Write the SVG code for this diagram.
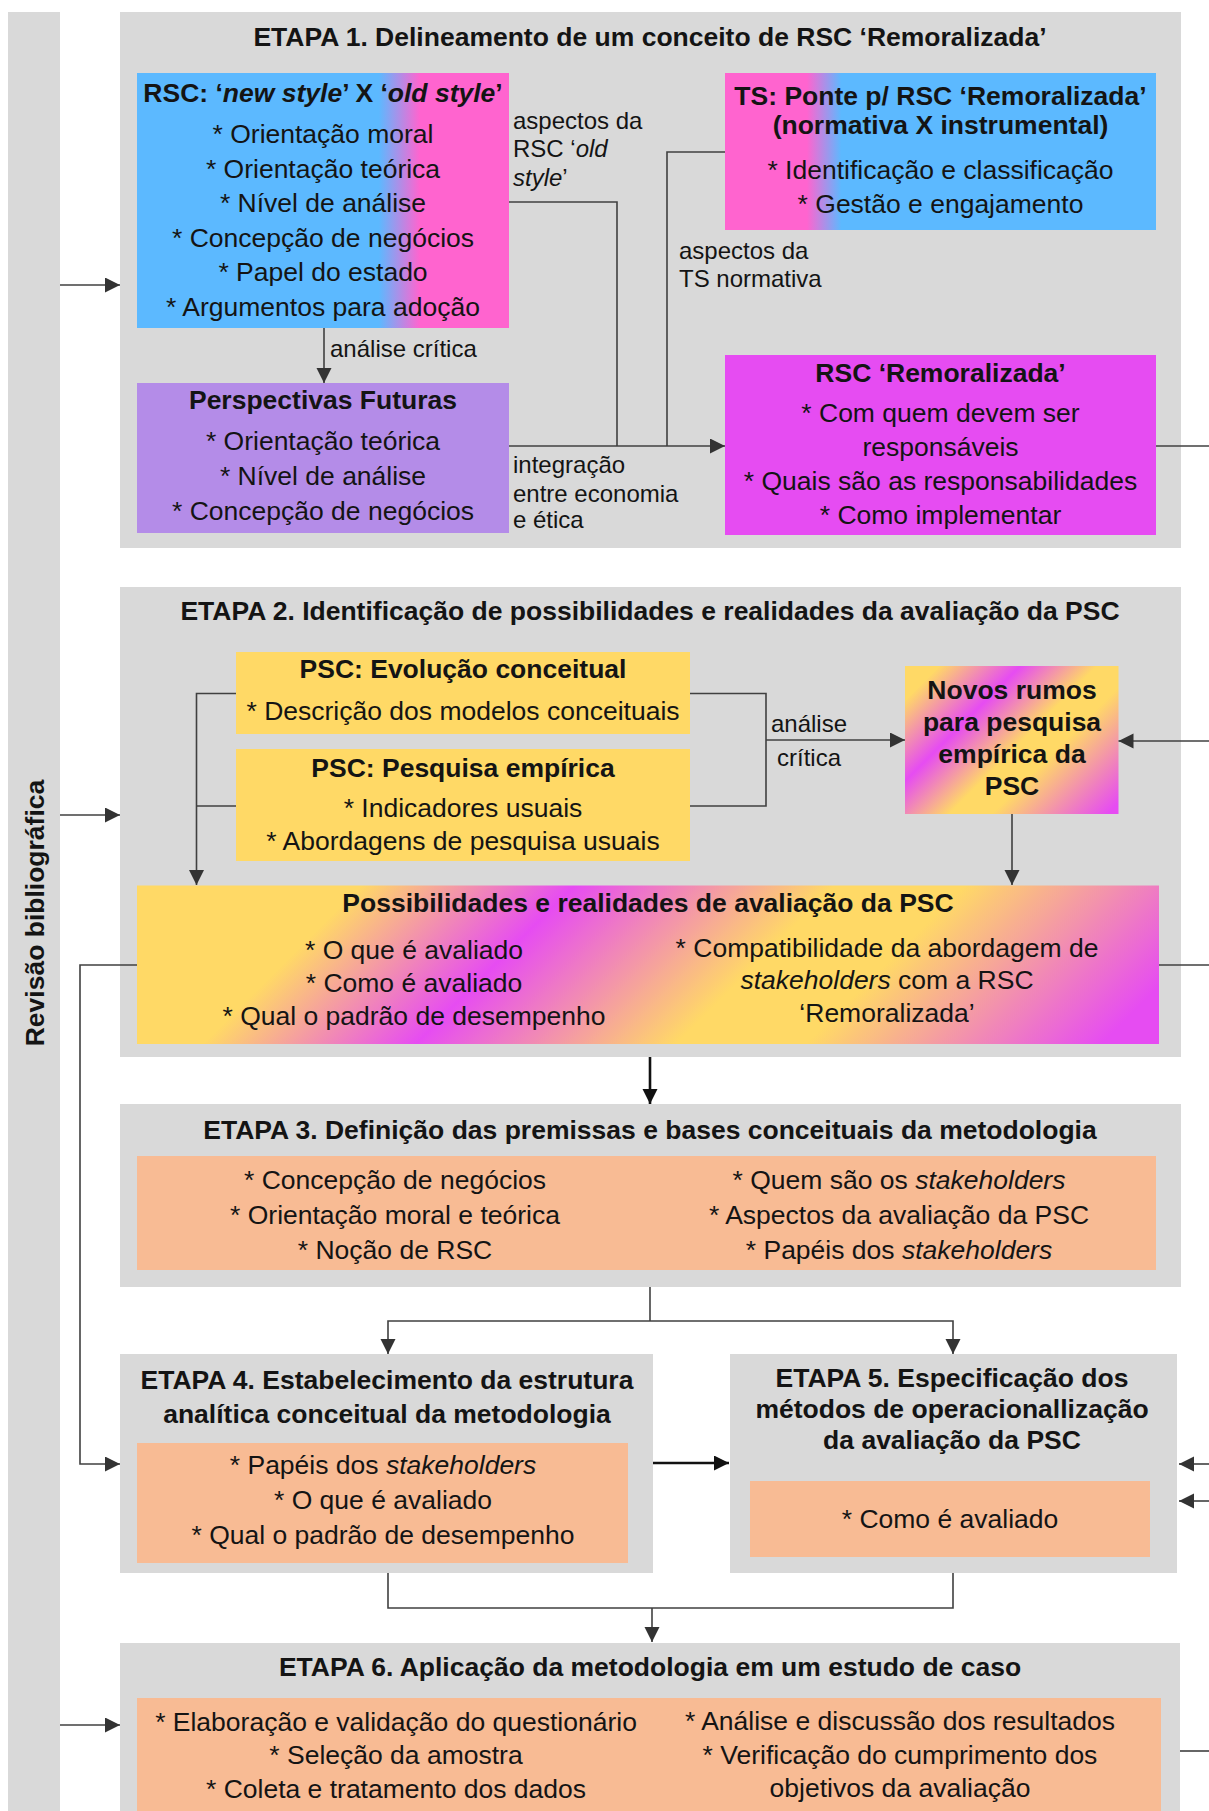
<svg xmlns="http://www.w3.org/2000/svg" width="1209" height="1811" viewBox="0 0 1209 1811">
  <style>
    .panel { fill: #D9D9D9; }
    .inner { fill: #F8BB94; }
    .t { font-family: "Liberation Sans", Arial, sans-serif; fill: #141414; }
    .b { font-weight: bold; font-size: 26.5px; }
    .n { font-size: 26.5px; }
    .lbl { font-size: 24px; }
    .c { text-anchor: middle; }
    .i { font-style: italic; }
    .ln { fill: none; stroke: #404040; stroke-width: 1.6; }
    .thick { fill: none; stroke: #111; stroke-width: 2.6; }
  </style>
  <defs>
    <marker id="ah" markerUnits="userSpaceOnUse" markerWidth="16" markerHeight="16" refX="15" refY="7.5" orient="auto">
      <path d="M0,0 L15,7.5 L0,15 z" fill="#333"/>
    </marker>
    <marker id="ahk" markerUnits="userSpaceOnUse" markerWidth="16" markerHeight="16" refX="15" refY="7.5" orient="auto">
      <path d="M0,0 L15,7.5 L0,15 z" fill="#111"/>
    </marker>
    <linearGradient id="gRsc" x1="0" y1="0" x2="1" y2="0">
      <stop offset="0" stop-color="#5CB9FF"/>
      <stop offset="0.65" stop-color="#5CB9FF"/>
      <stop offset="0.76" stop-color="#FF64CF"/>
      <stop offset="1" stop-color="#FF64CF"/>
    </linearGradient>
    <linearGradient id="gTs" x1="0" y1="0" x2="1" y2="0">
      <stop offset="0" stop-color="#FF64CF"/>
      <stop offset="0.19" stop-color="#FF64CF"/>
      <stop offset="0.27" stop-color="#5CB9FF"/>
      <stop offset="1" stop-color="#5CB9FF"/>
    </linearGradient>
    <linearGradient id="gPoss" gradientUnits="userSpaceOnUse" x1="511" y1="511" x2="1102.5" y2="1102.5">
      <stop offset="0" stop-color="#FFD966"/>
      <stop offset="0.19" stop-color="#FFD966"/>
      <stop offset="0.37" stop-color="#E64CF2"/>
      <stop offset="0.59" stop-color="#FFD966"/>
      <stop offset="0.70" stop-color="#FFD966"/>
      <stop offset="0.95" stop-color="#E64CF2"/>
      <stop offset="1" stop-color="#E64CF2"/>
    </linearGradient>
    <linearGradient id="gNovos" gradientUnits="userSpaceOnUse" x1="905" y1="666" x2="1118.5" y2="879.5">
      <stop offset="0" stop-color="#FFD966"/>
      <stop offset="0.08" stop-color="#FFD966"/>
      <stop offset="0.27" stop-color="#E64CF2"/>
      <stop offset="0.45" stop-color="#FFD966"/>
      <stop offset="0.55" stop-color="#FFD966"/>
      <stop offset="0.82" stop-color="#E64CF2"/>
      <stop offset="1" stop-color="#E64CF2"/>
    </linearGradient>
  </defs>

  <rect width="1209" height="1811" fill="#FFFFFF"/>

  <!-- literature review side bar -->
  <g id="revisao">
    <rect class="panel" x="8" y="12" width="52" height="1799"/>
    <text class="t b c" transform="translate(44,913) rotate(-90)" font-size="26">Revisão bibliográfica</text>
  </g>

  <!-- stage 1 -->
  <g id="etapa1">
    <rect class="panel" x="120" y="12" width="1061" height="536"/>
    <text class="t b c" x="650" y="46">ETAPA 1. Delineamento de um conceito de RSC ‘Remoralizada’</text>
  </g>
  <g id="rsc-style">
    <rect x="137" y="73" width="372" height="255" fill="url(#gRsc)"/>
    <text class="t b c" x="323" y="102">RSC: ‘<tspan class="i">new style</tspan>’ X ‘<tspan class="i">old style</tspan>’</text>
    <text class="t n c" x="323" y="143">* Orientação moral</text>
    <text class="t n c" x="323" y="177.6">* Orientação teórica</text>
    <text class="t n c" x="323" y="212.2">* Nível de análise</text>
    <text class="t n c" x="323" y="246.8">* Concepção de negócios</text>
    <text class="t n c" x="323" y="281.4">* Papel do estado</text>
    <text class="t n c" x="323" y="316">* Argumentos para adoção</text>
  </g>
  <g id="perspectivas">
    <rect x="137" y="383" width="372" height="150" fill="#B48CE8"/>
    <text class="t b c" x="323" y="409">Perspectivas Futuras</text>
    <text class="t n c" x="323" y="450">* Orientação teórica</text>
    <text class="t n c" x="323" y="485">* Nível de análise</text>
    <text class="t n c" x="323" y="520">* Concepção de negócios</text>
  </g>
  <g id="ts-ponte">
    <rect x="725" y="73" width="431" height="157" fill="url(#gTs)"/>
    <text class="t b c" x="940.5" y="105">TS: Ponte p/ RSC ‘Remoralizada’</text>
    <text class="t b c" x="940.5" y="134">(normativa X instrumental)</text>
    <text class="t n c" x="940.5" y="178.6">* Identificação e classificação</text>
    <text class="t n c" x="940.5" y="213">* Gestão e engajamento</text>
  </g>
  <g id="rsc-remoralizada">
    <rect x="725" y="355" width="431" height="180" fill="#E64CF2"/>
    <text class="t b c" x="940.5" y="382">RSC ‘Remoralizada’</text>
    <text class="t n c" x="940.5" y="422">* Com quem devem ser</text>
    <text class="t n c" x="940.5" y="456">responsáveis</text>
    <text class="t n c" x="940.5" y="490">* Quais são as responsabilidades</text>
    <text class="t n c" x="940.5" y="524">* Como implementar</text>
  </g>

  <!-- stage 2 -->
  <g id="etapa2">
    <rect class="panel" x="120" y="587" width="1061" height="470"/>
    <text class="t b c" x="650" y="620">ETAPA 2. Identificação de possibilidades e realidades da avaliação da PSC</text>
  </g>
  <g id="psc-evolucao">
    <rect x="236" y="652" width="454" height="82" fill="#FFD966"/>
    <text class="t b c" x="463" y="678">PSC: Evolução conceitual</text>
    <text class="t n c" x="463" y="720">* Descrição dos modelos conceituais</text>
  </g>
  <g id="psc-pesquisa">
    <rect x="236" y="749" width="454" height="112" fill="#FFD966"/>
    <text class="t b c" x="463" y="777">PSC: Pesquisa empírica</text>
    <text class="t n c" x="463" y="817">* Indicadores usuais</text>
    <text class="t n c" x="463" y="850">* Abordagens de pesquisa usuais</text>
  </g>
  <g id="novos-rumos">
    <rect x="905" y="666" width="213.5" height="148" fill="url(#gNovos)"/>
    <text class="t b c" x="1012" y="698.5">Novos rumos</text>
    <text class="t b c" x="1012" y="731">para pesquisa</text>
    <text class="t b c" x="1012" y="763">empírica da</text>
    <text class="t b c" x="1012" y="795">PSC</text>
  </g>
  <g id="possibilidades">
    <rect x="137" y="885.5" width="1022" height="158.5" fill="url(#gPoss)"/>
    <text class="t b c" x="648" y="912">Possibilidades e realidades de avaliação da PSC</text>
    <text class="t n c" x="414" y="959">* O que é avaliado</text>
    <text class="t n c" x="414" y="992">* Como é avaliado</text>
    <text class="t n c" x="414" y="1025">* Qual o padrão de desempenho</text>
    <text class="t n c" x="887" y="957">* Compatibilidade da abordagem de</text>
    <text class="t n c" x="887" y="989"><tspan class="i">stakeholders</tspan> com a RSC</text>
    <text class="t n c" x="887" y="1022">‘Remoralizada’</text>
  </g>

  <!-- stage 3 -->
  <g id="etapa3">
    <rect class="panel" x="120" y="1104" width="1061" height="183"/>
    <text class="t b c" x="650" y="1139">ETAPA 3. Definição das premissas e bases conceituais da metodologia</text>
    <rect class="inner" x="137" y="1156" width="1019" height="114"/>
    <text class="t n c" x="395" y="1189">* Concepção de negócios</text>
    <text class="t n c" x="395" y="1224">* Orientação moral e teórica</text>
    <text class="t n c" x="395" y="1259">* Noção de RSC</text>
    <text class="t n c" x="899" y="1189">* Quem são os <tspan class="i">stakeholders</tspan></text>
    <text class="t n c" x="899" y="1224">* Aspectos da avaliação da PSC</text>
    <text class="t n c" x="899" y="1259">* Papéis dos <tspan class="i">stakeholders</tspan></text>
  </g>

  <!-- stage 4 -->
  <g id="etapa4">
    <rect class="panel" x="120" y="1354" width="533" height="219"/>
    <text class="t b c" x="387" y="1389">ETAPA 4. Estabelecimento da estrutura</text>
    <text class="t b c" x="387" y="1423">analítica conceitual da metodologia</text>
    <rect class="inner" x="137" y="1443" width="491" height="120"/>
    <text class="t n c" x="383" y="1474">* Papéis dos <tspan class="i">stakeholders</tspan></text>
    <text class="t n c" x="383" y="1509">* O que é avaliado</text>
    <text class="t n c" x="383" y="1544">* Qual o padrão de desempenho</text>
  </g>

  <!-- stage 5 -->
  <g id="etapa5">
    <rect class="panel" x="730" y="1354" width="447" height="219"/>
    <text class="t b c" x="952" y="1387">ETAPA 5. Especificação dos</text>
    <text class="t b c" x="952" y="1418">métodos de operacionallização</text>
    <text class="t b c" x="952" y="1449">da avaliação da PSC</text>
    <rect class="inner" x="750" y="1481" width="400" height="76"/>
    <text class="t n c" x="950" y="1528">* Como é avaliado</text>
  </g>

  <!-- stage 6 -->
  <g id="etapa6">
    <rect class="panel" x="120" y="1643" width="1060" height="170"/>
    <text class="t b c" x="650" y="1676">ETAPA 6. Aplicação da metodologia em um estudo de caso</text>
    <rect class="inner" x="137" y="1698" width="1024" height="115"/>
    <text class="t n c" x="396" y="1731">* Elaboração e validação do questionário</text>
    <text class="t n c" x="396" y="1764">* Seleção da amostra</text>
    <text class="t n c" x="396" y="1798">* Coleta e tratamento dos dados</text>
    <text class="t n c" x="900" y="1730">* Análise e discussão dos resultados</text>
    <text class="t n c" x="900" y="1764">* Verificação do cumprimento  dos</text>
    <text class="t n c" x="900" y="1797">objetivos da avaliação</text>
  </g>

  <!-- connectors -->
  <g id="connectors">
    <path class="ln" d="M60,285 H120" marker-end="url(#ah)"/>
    <path class="ln" d="M324,328 V383" marker-end="url(#ah)"/>
    <path class="ln" d="M509,202 H617 V446"/>
    <path class="ln" d="M725,152 H667 V446"/>
    <path class="ln" d="M509,446 H725" marker-end="url(#ah)"/>
    <path class="ln" d="M1156,446 H1209"/>

    <path class="ln" d="M60,815 H120" marker-end="url(#ah)"/>
    <path class="ln" d="M236,806 H196.5"/>
    <path class="ln" d="M236,693.5 H196.5 V885" marker-end="url(#ah)"/>
    <path class="ln" d="M690,693.5 H766 V806 H690"/>
    <path class="ln" d="M766,740 H905" marker-end="url(#ah)"/>
    <path class="ln" d="M1209,741 H1118.5" marker-end="url(#ah)"/>
    <path class="ln" d="M1012,814 V885" marker-end="url(#ah)"/>
    <path class="ln" d="M137,965 H80 V1464 H120" marker-end="url(#ah)"/>
    <path class="ln" d="M1159,965 H1209"/>

    <path class="thick" d="M650,1057 V1104" marker-end="url(#ahk)"/>
    <path class="ln" d="M650,1287 V1321"/>
    <path class="ln" d="M650,1321 H388 V1354" marker-end="url(#ah)"/>
    <path class="ln" d="M650,1321 H953 V1354" marker-end="url(#ah)"/>

    <path class="thick" d="M653,1463 H729" marker-end="url(#ahk)"/>
    <path class="ln" d="M1209,1464 H1179" marker-end="url(#ah)"/>
    <path class="ln" d="M1209,1501 H1179" marker-end="url(#ah)"/>

    <path class="ln" d="M388,1573 V1608 H953 V1573"/>
    <path class="ln" d="M652,1608 V1642" marker-end="url(#ah)"/>
    <path class="ln" d="M60,1725 H120" marker-end="url(#ah)"/>
    <path class="ln" d="M1180,1751 H1209"/>

    <text class="t lbl" x="330" y="357">análise crítica</text>
    <text class="t lbl" x="513" y="129">aspectos da</text>
    <text class="t lbl" x="513" y="157">RSC ‘<tspan class="i">old</tspan></text>
    <text class="t lbl" x="513" y="186"><tspan class="i">style</tspan>’</text>
    <text class="t lbl" x="513" y="473">integração</text>
    <text class="t lbl" x="513" y="502">entre economia</text>
    <text class="t lbl" x="513" y="528">e ética</text>
    <text class="t lbl" x="679" y="259">aspectos da</text>
    <text class="t lbl" x="679" y="287">TS normativa</text>
    <text class="t lbl c" x="809" y="732">análise</text>
    <text class="t lbl c" x="809" y="766">crítica</text>
  </g>
</svg>
